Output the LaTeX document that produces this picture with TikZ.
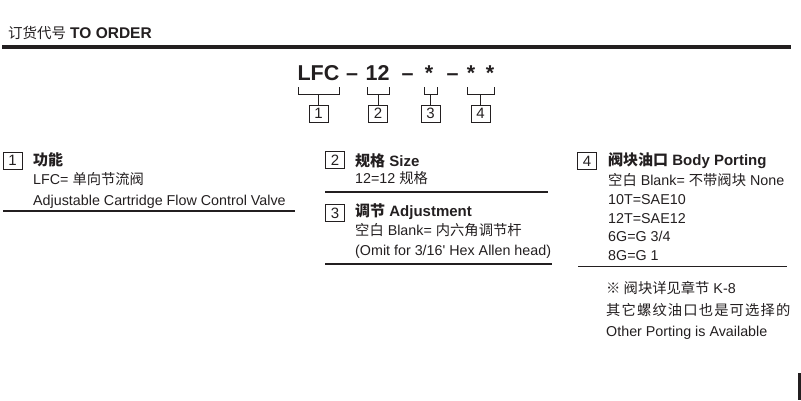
\documentclass[tikz,border=0pt]{standalone}
\usepackage{fontspec}
\setmainfont{Liberation Sans}
\newfontfamily\cjk{Noto Sans CJK SC}
\newcommand\zh[1]{{\cjk #1}}
\usetikzlibrary{positioning}
\definecolor{ink}{HTML}{231F20}
\tikzset{
  txt/.style={anchor=base west, inner sep=0pt, text=ink, font=\fontsize{14.3}{16}\selectfont},
  head/.style={txt, font=\fontsize{15}{16}\selectfont\bfseries},
  code/.style={anchor=base, inner sep=0pt, text=ink, font=\fontsize{21.5}{24}\selectfont\bfseries},
  numbox/.style={draw=ink, line width=0.9pt, minimum width=19pt, minimum height=17pt, inner sep=0pt, text=ink, font=\fontsize{15}{16}\selectfont},
  rule/.style={draw=ink, line width=1.1pt},
}

\begin{document}
\begin{tikzpicture}[x=1pt,y=-1pt]
\useasboundingbox (0,0) rectangle (801,400);

% title bar
\node[txt, font=\fontsize{14.5}{16}\selectfont] (title) at (8,38.5) {\zh{订货代号} {\fontsize{15.5}{16}\selectfont\bfseries TO ORDER}};
\draw[ink, line width=4pt] (2,47) -- (791,47);

% order code
\node[code] (lfc) at (318.5,80) {LFC};
\node[code] (d1) at (352,80) {--};
\node[code] (sz) at (377.5,80) {12};
\node[code] (d2) at (407.5,80) {--};
\node[code] (adj) at (429,80) {*};
\node[code] (d3) at (452.5,80) {--};
\node[code] (pa) at (471,80) {*};
\node[code] (pb) at (490,80) {*};

% brackets and numbered boxes
\draw[ink, line width=0.9pt] (298,87) -- (298,94) -- (339,94) -- (339,87);
\draw[ink, line width=0.9pt] (367,87) -- (367,94) -- (389,94) -- (389,87);
\draw[ink, line width=0.9pt] (424,87) -- (424,94) -- (437,94) -- (437,87);
\draw[ink, line width=0.9pt] (467,87) -- (467,94) -- (494,94) -- (494,87);
\coordinate (k1) at (318.5,94);
\coordinate (k2) at (378,94);
\coordinate (k3) at (430.5,94);
\coordinate (k4) at (480.5,94);
\node[numbox] (n1) at (318.5,113.5) {1};
\node[numbox] (n2) at (378,113.5) {2};
\node[numbox] (n3) at (430.5,113.5) {3};
\node[numbox] (n4) at (480.5,113.5) {4};
\draw[ink, line width=0.9pt] (k1) -- (n1);
\draw[ink, line width=0.9pt] (k2) -- (n2);
\draw[ink, line width=0.9pt] (k3) -- (n3);
\draw[ink, line width=0.9pt] (k4) -- (n4);

% 1 function
\node[numbox] (s1) at (12.5,160.5) {1};
\node[head] (h1) at (33,165) {\zh{功能}};
\path (h1.base west) ++(0,19) node[txt] (l1a) {LFC= \zh{单向节流阀}};
\path (l1a.base west) ++(0,21) node[txt] (l1b) {Adjustable Cartridge Flow Control Valve};
\draw[rule] (3,211) -- (295,211);

% 2 size
\node[numbox] (s2) at (335,160) {2};
\node[head] (h2) at (355,166) {\zh{规格} Size};
\path (h2.base west) ++(0,17) node[txt] (l2a) {12=12 \zh{规格}};
\draw[rule] (325,192) -- (548,192);

% 3 adjustment
\node[numbox] (s3) at (335,213) {3};
\node[head] (h3) at (355,216) {\zh{调节} Adjustment};
\path (h3.base west) ++(0,19) node[txt] (l3a) {\zh{空白} Blank= \zh{内六角调节杆}};
\path (l3a.base west) ++(0,20) node[txt] (l3b) {(Omit for 3/16\textquotesingle{} Hex Allen head)};
\draw[rule] (325,264) -- (552,264);

% 4 body porting
\node[numbox] (s4) at (587,161) {4};
\node[head] (h4) at (608,165.5) {\zh{阀块油口} Body Porting};
\path (h4.base west) ++(0,19.5) node[txt] (l4a) {\zh{空白} Blank= \zh{不带阀块} None};
\path (l4a.base west) ++(0,19) node[txt] (l4b) {10T=SAE10};
\path (l4b.base west) ++(0,19) node[txt] (l4c) {12T=SAE12};
\path (l4c.base west) ++(0,18.5) node[txt] (l4d) {6G=G 3/4};
\path (l4d.base west) ++(0,18.5) node[txt] (l4e) {8G=G 1};
\draw[rule] (578,266.5) -- (787,266.5);

% notes
\node[txt] (nt1) at (606,293) {\zh{※ 阀块详见章节} K-8};
\path (nt1.base west) ++(0,22) node[txt] (nt2) {\cjk\addfontfeature{LetterSpace=8}其它螺纹油口也是可选择的};
\path (nt2.base west) ++(0,21.5) node[txt] (nt3) {Other Porting is Available};

\draw[ink, line width=3pt] (799.5,373) -- (799.5,400);
\end{tikzpicture}
\end{document}
